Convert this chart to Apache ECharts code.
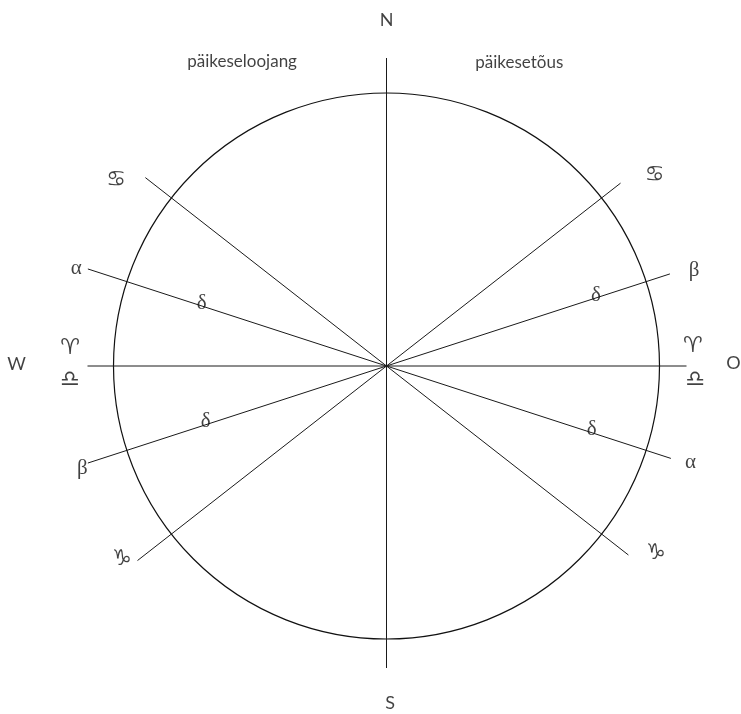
<!DOCTYPE html>
<html>
<head>
<meta charset="utf-8">
<script src="https://cdn.jsdelivr.net/npm/echarts@6/dist/echarts.min.js"></script>
<style>
html,body{margin:0;padding:0;background:#fff;}
#main{width:741px;height:714px;}
</style>
</head>
<body>
<div id="main"></div>
<script>
// kiired: suund (kraadides, 0 = ida, vastupäeva) ja pikkus mõlemale poole keskpunktist
var rayAngles = [90, 0, 38, 142, 18, 162];
var rayFwd = [308, 300, 297, 306, 298, 314];
var rayBack = [302, 299, 316, 307, 314, 299];
var circleR = 273;

// märgid kiirte otstes
var signText = ['♋', '♋', 'α', 'β', 'β', 'α', '♑', '♑', '♈', '♎', '♈', '♎'];
var signAngle = [145.5, 35.4, 162.6, 17.2, 198.6, 342.4, 216.2, 325.2, 176.8, 182.5, 3.6, 357.4];
var signR = [328, 329, 325, 322, 321, 319, 328, 328, 317, 317, 307, 309];

// delta kiirte peal
var deltaAngle = [161.3, 18.7, 197.0, 342.7];
var deltaR = [195, 221, 189, 215];

// ilmakaared ja pealkirjad
var compassText = ['N', 'S', 'W', 'O'];
var compassAngle = [90, 270.6, 179.7, 0.4];
var compassR = [346, 337, 370, 347];
var captionText = ['päikeseloojang', 'päikesetõus'];
var captionAngle = [115.4, 66.4];
var captionR = [336.6, 331.6];

var chart = echarts.init(document.getElementById('main'));

function labelSeries(texts, angles, radii, font, size, color) {
    var data = [];
    for (var i = 0; i < texts.length; i++) {
        data.push({name: texts[i], value: [radii[i], angles[i]]});
    }
    return {
        type: 'scatter',
        coordinateSystem: 'polar',
        symbolSize: 0,
        clip: false,
        silent: true,
        data: data,
        label: {
            show: true,
            position: 'inside',
            formatter: '{b}',
            fontFamily: font,
            fontSize: size,
            color: color,
            align: 'center',
            verticalAlign: 'middle'
        }
    };
}

var series = [];
for (var i = 0; i < rayAngles.length; i++) {
    series.push({
        type: 'line',
        coordinateSystem: 'polar',
        symbol: 'none',
        clip: false,
        silent: true,
        data: [[rayFwd[i], rayAngles[i]], [0, rayAngles[i]], [rayBack[i], rayAngles[i] + 180]],
        lineStyle: {color: '#1a1a1a', width: 1}
    });
}
var greek = {'α': 1, 'β': 1};
var zodT = [], zodA = [], zodR = [], grT = [], grA = [], grR = [];
for (var j = 0; j < signText.length; j++) {
    if (greek[signText[j]]) { grT.push(signText[j]); grA.push(signAngle[j]); grR.push(signR[j]); }
    else { zodT.push(signText[j]); zodA.push(signAngle[j]); zodR.push(signR[j]); }
}
series.push(labelSeries(zodT, zodA, zodR, 'DejaVu Sans', 22, '#111'));
series.push(labelSeries(grT, grA, grR, 'Liberation Serif', 21, '#111'));
var dT = deltaAngle.map(function () { return 'δ'; });
series.push(labelSeries(dT, deltaAngle, deltaR, 'Liberation Serif', 21, '#111'));
series.push(labelSeries(compassText, compassAngle, compassR, 'Lato', 18, '#111'));
series.push(labelSeries(captionText, captionAngle, captionR, 'Lato', 17, '#111'));

// ring on raadiustelje jaotusjoon (circleR), telje ulatus kahekordne, et kiired ei lõiguks
var option = {
    backgroundColor: '#fff',
    animation: false,
    polar: {
        center: [386.5, 366],
        radius: circleR * 2
    },
    angleAxis: {
        type: 'value',
        min: 0,
        max: 360,
        startAngle: 0,
        clockwise: false,
        axisLine: {show: false},
        axisTick: {show: false},
        axisLabel: {show: false},
        splitLine: {show: false}
    },
    radiusAxis: {
        type: 'value',
        min: 0,
        max: circleR * 2,
        interval: circleR,
        axisLine: {show: false},
        axisTick: {show: false},
        axisLabel: {show: false},
        splitLine: {show: true, lineStyle: {color: '#111', width: 1.2}}
    },
    series: series
};
chart.setOption(option);
</script>
</body>
</html>
